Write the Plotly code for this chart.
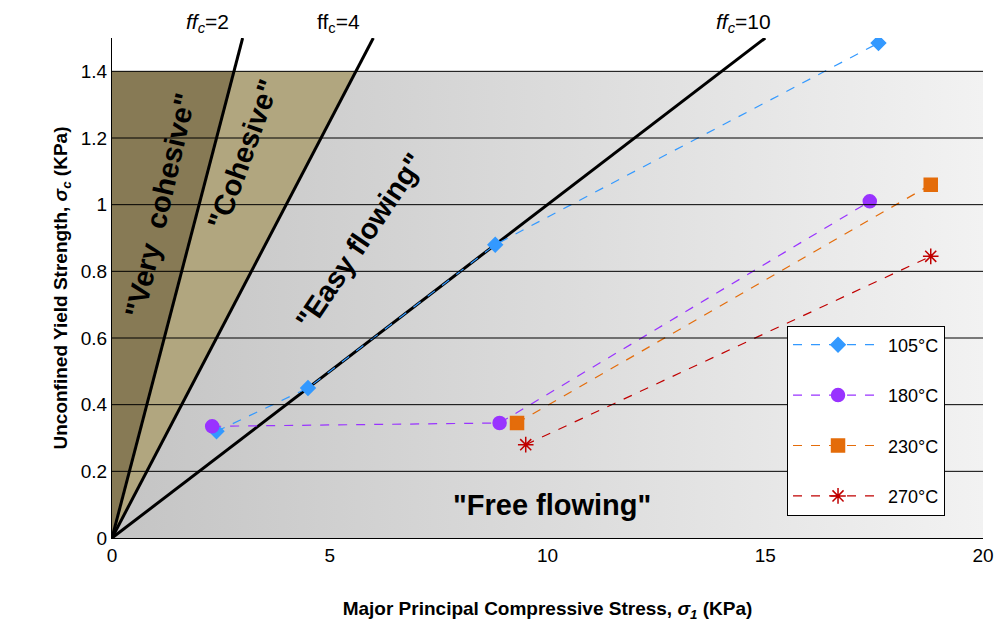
import plotly.graph_objects as go

x105 = [2.4, 4.5, 8.8, 17.6]; y105 = [0.32, 0.45, 0.88, 1.485]
x180 = [2.3, 8.9, 17.4]; y180 = [0.335, 0.345, 1.01]
x230 = [9.3, 18.8]; y230 = [0.345, 1.06]
x270 = [9.5, 18.8]; y270 = [0.28, 0.845]
ffc = [2, 4, 10]
ytop = 1.4; yline = 1.5

fig = go.Figure()
fig.add_trace(go.Scatter(x=[0, 20, 20, 0], y=[0, 0, ytop, ytop], fill="toself", mode="none",
    fillgradient=dict(type="horizontal", colorscale=[[0, "#c4c4c4"], [1, "#f2f2f2"]]),
    showlegend=False, hoverinfo="skip"))
fig.add_trace(go.Scatter(x=[0, ytop*ffc[1], ytop*ffc[0], 0], y=[0, ytop, ytop, 0], fill="toself", mode="none",
    fillcolor="#b1a67f", showlegend=False, hoverinfo="skip"))
fig.add_trace(go.Scatter(x=[0, ytop*ffc[0], 0, 0], y=[0, ytop, ytop, 0], fill="toself", mode="none",
    fillcolor="#877a55", showlegend=False, hoverinfo="skip"))
for f in ffc:
    fig.add_trace(go.Scatter(x=[0, yline*f], y=[0, yline], mode="lines",
        line=dict(color="black", width=3), showlegend=False, hoverinfo="skip"))
for yv in [0.2, 0.4, 0.6, 0.8, 1.0, 1.2, 1.4]:
    fig.add_shape(type="line", x0=0, x1=20, y0=yv, y1=yv, line=dict(color="black", width=1), layer="above")

series = [("105°C", x105, y105, "#3399ff", "diamond", 11),
          ("180°C", x180, y180, "#9933ff", "circle", 13),
          ("230°C", x230, y230, "#e46c0a", "square", 13),
          ("270°C", x270, y270, "#c00000", "asterisk-open", 13)]
for name, xs, ys, c, sym, sz in series:
    fig.add_trace(go.Scatter(x=xs, y=ys, name=name, legendgroup=name, mode="lines+markers",
        line=dict(color=c, width=1.2, dash="dash"),
        marker=dict(color=c, symbol=sym, size=sz, line=dict(color=c, width=1.5))))

top = dict(showarrow=False, yref="paper", y=1.0, yanchor="bottom", font=dict(size=21))
fig.add_annotation(x=2.2, text="<i>ff<sub>c</sub></i>=2", **top)
fig.add_annotation(x=5.2, text="ff<sub>c</sub>=4", **top)
fig.add_annotation(x=14.5, text="<i>ff<sub>c</sub></i>=10", **top)
lab = dict(size=29, family="Liberation Sans", color="black")
fig.add_annotation(x=1.1, y=1.0, text='<b>"Very  cohesive"</b>', textangle=-77, showarrow=False, font=lab)
fig.add_annotation(x=3.0, y=1.15, text='<b>"Cohesive"</b>', textangle=-70, showarrow=False, font=lab)
fig.add_annotation(x=5.7, y=0.89, text='<b>"Easy flowing"</b>', textangle=-56, showarrow=False, font=lab)
fig.add_annotation(x=10.1, y=0.1, text='<b>"Free flowing"</b>', showarrow=False, font=lab)

fig.update_layout(width=994, height=618, margin=dict(l=104, r=19, t=30, b=88),
    plot_bgcolor="white", paper_bgcolor="white",
    font=dict(family="Liberation Sans", size=18, color="black"),
    legend=dict(x=0.775, y=0.425, xanchor="left", yanchor="top", bordercolor="black", borderwidth=1,
                bgcolor="white", font=dict(size=18), tracegroupgap=24, itemwidth=90),
    xaxis=dict(range=[0, 20], dtick=5, showgrid=False, zeroline=False, showline=True, linecolor="black",
               ticks="", automargin=False, tickfont=dict(size=19),
               title=dict(text="<b>Major Principal Compressive Stress, <i>σ<sub>1</sub></i> (KPa)</b>", font=dict(size=19), standoff=36)),
    yaxis=dict(range=[0, 1.5], tickvals=[0, 0.2, 0.4, 0.6, 0.8, 1, 1.2, 1.4],
               ticktext=["0", "0.2", "0.4", "0.6", "0.8", "1", "1.2", "1.4"], automargin=False, tickfont=dict(size=19),
               showgrid=False, zeroline=False, showline=True, linecolor="black", ticks="",
               title=dict(text="<b>Unconfined Yield Strength, <i>σ<sub>c</sub></i> (KPa)</b>", font=dict(size=19), standoff=8)))
fig.write_html("out.html")
